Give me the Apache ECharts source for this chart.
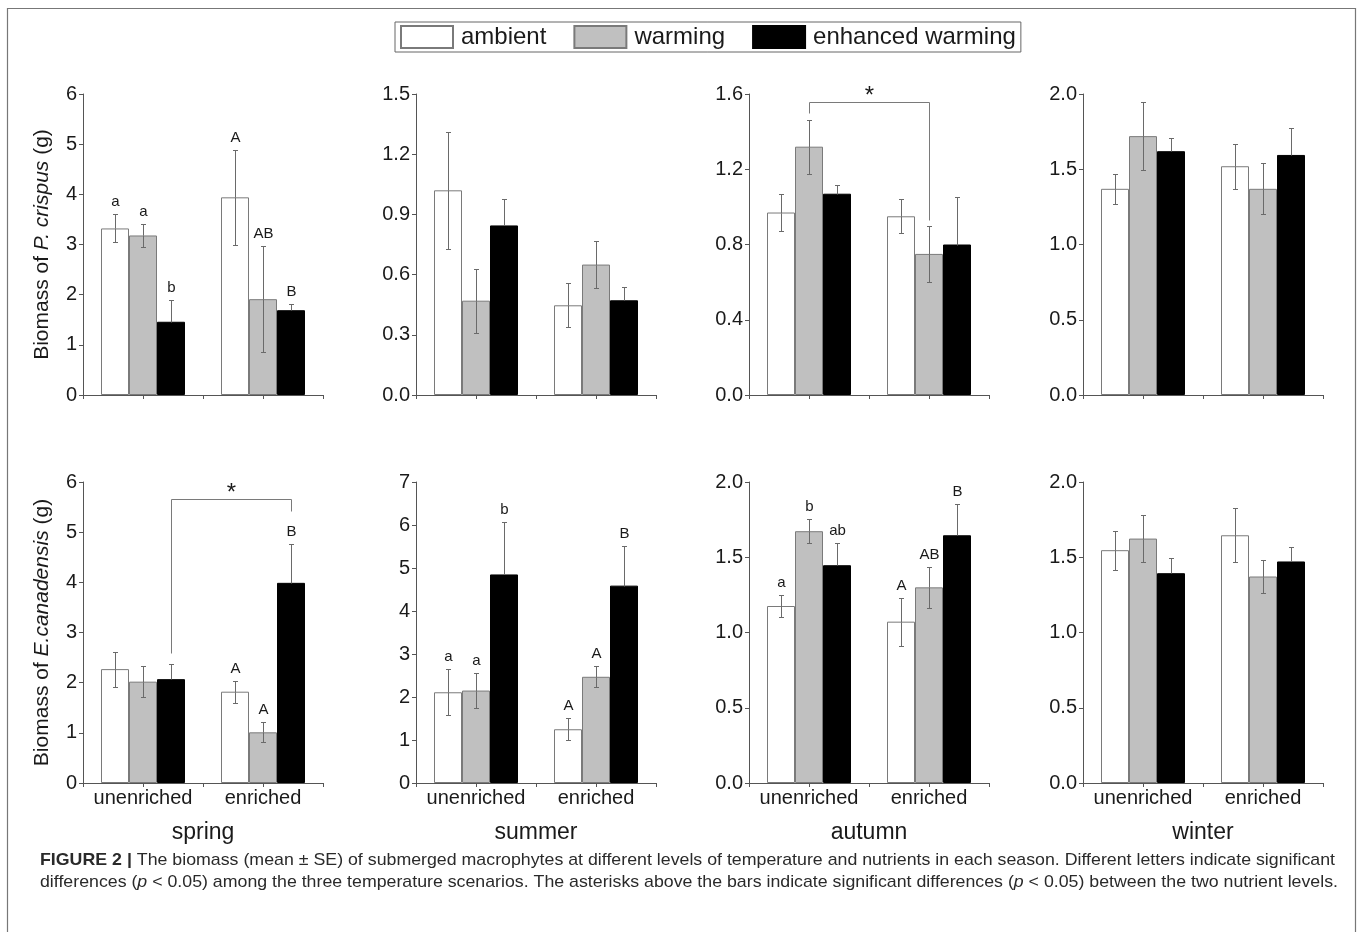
<!DOCTYPE html>
<html>
<head>
<meta charset="utf-8">
<script src="https://cdn.jsdelivr.net/npm/echarts@6/dist/echarts.min.js"></script>
<style>
  html, body { margin: 0; padding: 0; background: #ffffff; }
  #chart { width: 1358px; height: 932px; }
</style>
</head>
<body>
<div id="chart"></div>
<script>
// ---- categories -------------------------------------------------------
const nutrientLevels = ['unenriched', 'enriched'];
const treatments = ['ambient', 'warming', 'enhanced warming'];
const seasons = ['spring', 'summer', 'autumn', 'winter'];

// ---- P. crispus biomass (g): rows = nutrient level, columns = treatment ----
const pcSpringMean = [[3.32, 3.18, 1.46], [3.94, 1.91, 1.69]];
const pcSpringSE   = [[0.28, 0.22, 0.43], [0.94, 1.06, 0.12]];
const pcSpringLetters = [['a', 'a', 'b'], ['A', 'AB', 'B']];

const pcSummerMean = [[1.02, 0.47, 0.845], [0.447, 0.65, 0.472]];
const pcSummerSE   = [[0.29, 0.16, 0.13], [0.11, 0.115, 0.065]];

const pcAutumnMean = [[0.97, 1.32, 1.07], [0.95, 0.75, 0.80]];
const pcAutumnSE   = [[0.096, 0.143, 0.044], [0.09, 0.15, 0.25]];

const pcWinterMean = [[1.37, 1.72, 1.62], [1.52, 1.37, 1.595]];
const pcWinterSE   = [[0.10, 0.226, 0.09], [0.15, 0.17, 0.177]];

// ---- E. canadensis biomass (g) ----------------------------------------
const ecSpringMean = [[2.27, 2.02, 2.07], [1.82, 1.01, 3.99]];
const ecSpringSE   = [[0.35, 0.31, 0.30], [0.22, 0.20, 0.78]];
const ecSpringLetters = [['', '', ''], ['A', 'A', 'B']];

const ecSummerMean = [[2.11, 2.15, 4.85], [1.25, 2.47, 4.59]];
const ecSummerSE   = [[0.53, 0.41, 1.22], [0.26, 0.24, 0.92]];
const ecSummerLetters = [['a', 'a', 'b'], ['A', 'A', 'B']];

const ecAutumnMean = [[1.176, 1.673, 1.447], [1.072, 1.30, 1.646]];
const ecAutumnSE   = [[0.07, 0.08, 0.15], [0.16, 0.135, 0.21]];
const ecAutumnLetters = [['a', 'b', 'ab'], ['A', 'AB', 'B']];

const ecWinterMean = [[1.547, 1.624, 1.394], [1.646, 1.372, 1.472]];
const ecWinterSE   = [[0.13, 0.157, 0.10], [0.18, 0.11, 0.095]];

// ---- y-axis ticks: [min, max, interval, decimals] ----------------------
const pcSpringAxis = [0, 6, 1, 0];
const pcSummerAxis = [0, 1.5, 0.3, 1];
const pcAutumnAxis = [0, 1.6, 0.4, 1];
const pcWinterAxis = [0, 2.0, 0.5, 1];
const ecSpringAxis = [0, 6, 1, 0];
const ecSummerAxis = [0, 7, 1, 0];
const ecAutumnAxis = [0, 2.0, 0.5, 1];
const ecWinterAxis = [0, 2.0, 0.5, 1];

// ---- significance brackets between nutrient levels ----------------------
// [fromLevel, fromTreatment, fromY, topY, toLevel, toTreatment, toY]
const pcAutumnBracket = [0, 1, 1.50, 1.56, 1, 1, 0.93];
const ecSpringBracket = [0, 2, 2.59, 5.67, 1, 2, 5.42];

const FONT = '"Liberation Sans", Arial, Helvetica, sans-serif';

const panels = [
  { mean: pcSpringMean, se: pcSpringSE, letters: pcSpringLetters, axis: pcSpringAxis, bracket: null },
  { mean: pcSummerMean, se: pcSummerSE, letters: null, axis: pcSummerAxis, bracket: null },
  { mean: pcAutumnMean, se: pcAutumnSE, letters: null, axis: pcAutumnAxis, bracket: pcAutumnBracket },
  { mean: pcWinterMean, se: pcWinterSE, letters: null, axis: pcWinterAxis, bracket: null },
  { mean: ecSpringMean, se: ecSpringSE, letters: ecSpringLetters, axis: ecSpringAxis, bracket: ecSpringBracket },
  { mean: ecSummerMean, se: ecSummerSE, letters: ecSummerLetters, axis: ecSummerAxis, bracket: null },
  { mean: ecAutumnMean, se: ecAutumnSE, letters: ecAutumnLetters, axis: ecAutumnAxis, bracket: null },
  { mean: ecWinterMean, se: ecWinterSE, letters: null, axis: ecWinterAxis, bracket: null }
];

const barFill = ['#ffffff', '#c0c0c0', '#000000'];
const barEdge = ['#7a7a7a', '#7a7a7a', '#000000'];
const CAT_GAP = 0.30;   // share of each category band left empty

const gridLefts = [83, 416, 749, 1083];
const gridTops = [94, 482];
const GRID_W = 240, GRID_H = 301;

const grids = [], xAxes = [], yAxes = [], series = [];

function barOffset(api, treatment) {
  const band = api.size([1, 0])[0];
  const bw = band * (1 - CAT_GAP) / 3;
  return (treatment - 1) * bw;
}

function errorRenderer(panel) {
  return function (params, api) {
    const lvl = api.value(0), t = api.value(1), m = api.value(2), s = api.value(3);
    const x = Math.round(api.coord([lvl, 0])[0] + barOffset(api, t)) + 0.5;
    const yT = Math.round(api.coord([lvl, m + s])[1]) + 0.5;
    const yM = Math.round(api.coord([lvl, m])[1]) + 0.5;
    const yB = Math.round(api.coord([lvl, m - s])[1]) + 0.5;
    const cap = 2.5;
    const st = { stroke: '#6a6a6a', lineWidth: 1 };
    const children = [
      { type: 'line', shape: { x1: x, y1: yT, x2: x, y2: yM }, style: st },
      { type: 'line', shape: { x1: x - cap, y1: yT, x2: x + cap, y2: yT }, style: st }
    ];
    // the lower whisker disappears inside the black bars
    if (barFill[t] !== '#000000') {
      children.push({ type: 'line', shape: { x1: x, y1: yM, x2: x, y2: yB }, style: st });
      children.push({ type: 'line', shape: { x1: x - cap, y1: yB, x2: x + cap, y2: yB }, style: st });
    }
    const letter = panel.letters ? panel.letters[lvl][t] : '';
    if (letter) {
      children.push({
        type: 'text',
        style: {
          text: letter, x: x, y: yT - 5, align: 'center', verticalAlign: 'bottom',
          fontSize: 15, fontFamily: FONT, fill: '#1a1a1a'
        }
      });
    }
    return { type: 'group', children: children };
  };
}

function bracketRenderer(params, api) {
  const fl = api.value(0), ft = api.value(1), fy = api.value(2), ty = api.value(3);
  const tl = api.value(4), tt = api.value(5), ey = api.value(6);
  const x1 = Math.round(api.coord([fl, 0])[0] + barOffset(api, ft)) + 0.5;
  const x2 = Math.round(api.coord([tl, 0])[0] + barOffset(api, tt)) + 0.5;
  const y1 = Math.round(api.coord([fl, fy])[1]) + 0.5;
  const yt = Math.round(api.coord([fl, ty])[1]) + 0.5;
  const y2 = Math.round(api.coord([tl, ey])[1]) + 0.5;
  return {
    type: 'group',
    children: [
      { type: 'polyline', shape: { points: [[x1, y1], [x1, yt], [x2, yt], [x2, y2]] },
        style: { stroke: '#7a7a7a', lineWidth: 1, fill: null } },
      { type: 'text', style: { text: '*', x: (x1 + x2) / 2, y: yt - 6, align: 'center',
        verticalAlign: 'middle', fontSize: 24, fontFamily: FONT, fill: '#1a1a1a' } }
    ]
  };
}

panels.forEach(function (panel, p) {
  const row = Math.floor(p / 4), col = p % 4;
  const bottomRow = row === 1;
  grids.push({ left: gridLefts[col], top: gridTops[row], width: GRID_W, height: GRID_H });

  // category axis with ticks at the band boundaries
  xAxes.push({
    type: 'category', gridIndex: p, data: nutrientLevels, position: 'bottom',
    axisLine: { lineStyle: { color: '#555555', width: 1 } },
    axisTick: { show: true, inside: false, length: 4, interval: 0, lineStyle: { color: '#555555' } },
    axisLabel: { show: bottomRow, interval: 0, fontSize: 20, color: '#1a1a1a', fontFamily: FONT, margin: 5 },
    name: bottomRow ? seasons[col] : '',
    nameLocation: 'middle', nameGap: 38,
    nameTextStyle: { fontSize: 23, color: '#1a1a1a', fontFamily: FONT }
  });
  // second axis on the same line: ticks at the category centres
  xAxes.push({
    type: 'category', gridIndex: p, data: nutrientLevels, position: 'bottom', offset: 0,
    axisLine: { show: false },
    axisTick: { show: true, alignWithLabel: true, interval: 0, inside: false, length: 4, lineStyle: { color: '#555555' } },
    axisLabel: { show: false }
  });

  const ax = panel.axis;
  const yAxis = {
    type: 'value', gridIndex: p, min: ax[0], max: ax[1], interval: ax[2],
    axisLine: { show: true, lineStyle: { color: '#555555', width: 1 } },
    axisTick: { show: true, inside: false, length: 4, lineStyle: { color: '#555555' } },
    splitLine: { show: false },
    axisLabel: {
      fontSize: 20, color: '#1a1a1a', fontFamily: FONT, margin: 6,
      formatter: function (v) { return v.toFixed(ax[3]); }
    }
  };
  if (col === 0) {
    yAxis.name = row === 0 ? '{n|Biomass of }{i|P. crispus}{n| (g)}'
                           : '{n|Biomass of }{i|E.canadensis}{n| (g)}';
    yAxis.nameLocation = 'middle';
    yAxis.nameGap = 30;
    yAxis.nameRotate = 90;
    yAxis.nameTextStyle = {
      rich: {
        n: { fontSize: 21, fontFamily: FONT, color: '#1a1a1a' },
        i: { fontSize: 21, fontFamily: FONT, fontStyle: 'italic', color: '#1a1a1a' }
      }
    };
  }
  yAxes.push(yAxis);

  treatments.forEach(function (name, t) {
    series.push({
      type: 'bar', name: name, xAxisIndex: 2 * p, yAxisIndex: p,
      barGap: '0%', barCategoryGap: (CAT_GAP * 100) + '%',
      itemStyle: { color: barFill[t], borderColor: barEdge[t], borderWidth: 1 },
      emphasis: { disabled: true },
      data: nutrientLevels.map(function (_, l) { return panel.mean[l][t]; })
    });
  });

  const errData = [];
  nutrientLevels.forEach(function (_, l) {
    treatments.forEach(function (_, t) {
      errData.push([l, t, panel.mean[l][t], panel.se[l][t]]);
    });
  });
  series.push({
    type: 'custom', xAxisIndex: 2 * p, yAxisIndex: p, silent: true, z: 5,
    renderItem: errorRenderer(panel),
    encode: { x: 0, y: 2 },
    data: errData
  });

  if (panel.bracket) {
    series.push({
      type: 'custom', xAxisIndex: 2 * p, yAxisIndex: p, silent: true, z: 6,
      renderItem: bracketRenderer,
      encode: { x: 0, y: 3 },
      data: [panel.bracket]
    });
  }
});

// ---- caption ------------------------------------------------------------
const captionLine1 = 'The biomass (mean \u00b1 SE) of submerged macrophytes at different levels of temperature and nutrients in each season. Different letters indicate significant';
const captionLine2a = 'differences (';
const captionLine2b = ' < 0.05) among the three temperature scenarios. The asterisks above the bars indicate significant differences (';
const captionLine2c = ' < 0.05) between the two nutrient levels.';
const CAP_SIZE = 17;

const measureCtx = document.createElement('canvas').getContext('2d');
function textWidth(str, weight, style) {
  measureCtx.font = (style || 'normal') + ' ' + (weight || 'normal') + ' ' + CAP_SIZE + 'px ' + FONT;
  return measureCtx.measureText(str).width;
}
const w1 = textWidth('FIGURE 2 | ', 'bold') + textWidth(captionLine1);
const w2 = textWidth(captionLine2a) + textWidth(captionLine2b) + textWidth(captionLine2c) + 2 * textWidth('p', 'normal', 'italic');
const scale1 = 1295 / w1;
const scale2 = 1298 / w2;

const capRich = {
  b: { fontSize: CAP_SIZE, fontWeight: 'bold', fontFamily: FONT, fill: '#2a2a2a' },
  n: { fontSize: CAP_SIZE, fontFamily: FONT, fill: '#2a2a2a' },
  i: { fontSize: CAP_SIZE, fontStyle: 'italic', fontFamily: FONT, fill: '#2a2a2a' }
};

const chart = echarts.init(document.getElementById('chart'), null, { renderer: 'canvas' });
chart.setOption({
  backgroundColor: '#ffffff',
  animation: false,
  legend: {
    data: treatments.map(function (n) { return { name: n, icon: 'rect' }; }),
    left: 395, top: 22,
    itemWidth: 52, itemHeight: 22, itemGap: 27,
    padding: [3, 5, 3, 5],
    borderColor: '#666666', borderWidth: 1,
    selectedMode: false,
    textStyle: { fontSize: 24, color: '#1a1a1a', fontFamily: FONT, padding: [0, 0, 0, 3] }
  },
  grid: grids,
  xAxis: xAxes,
  yAxis: yAxes,
  series: series,
  graphic: [
    { type: 'rect', silent: true, z: -1,
      shape: { x: 7.5, y: 8.5, width: 1348, height: 940 },
      style: { fill: null, stroke: '#777777', lineWidth: 1.2 } },
    { type: 'text', silent: true, x: 40, y: 860, scaleX: scale1,
      style: { text: '{b|FIGURE 2 | }{n|' + captionLine1 + '}', rich: capRich,
               verticalAlign: 'middle', align: 'left' } },
    { type: 'text', silent: true, x: 40, y: 882, scaleX: scale2,
      style: { text: '{n|' + captionLine2a + '}{i|p}{n|' + captionLine2b + '}{i|p}{n|' + captionLine2c + '}',
               rich: capRich, verticalAlign: 'middle', align: 'left' } }
  ]
});
</script>
</body>
</html>
